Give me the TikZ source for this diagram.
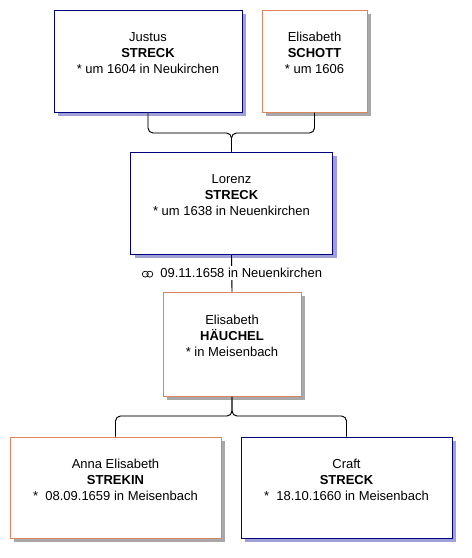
\documentclass[tikz,border=0pt]{standalone}
\usepackage{fontspec}
\setmainfont{Liberation Sans}
\usepackage{xcolor}

\definecolor{manblue}{RGB}{0,0,128}
\definecolor{womanred}{RGB}{222,132,92}
\definecolor{manshadow}{RGB}{160,160,215}
\definecolor{womanshadow}{RGB}{168,168,168}

\tikzset{
  person/.style={draw, line width=1pt, fill=white, inner sep=0pt, align=center,
    font=\fontsize{13}{16}\selectfont},
  man/.style={person, draw=manblue,
    preaction={fill=manshadow, draw=none, transform canvas={xshift=4pt, yshift=-4pt}}},
  woman/.style={person, draw=womanred,
    preaction={fill=womanshadow, draw=none, transform canvas={xshift=4pt, yshift=-4pt}}},
  link/.style={line width=0.9pt, rounded corners=5pt},
  linkshade/.style={link, gray!50, xshift=1.5pt, yshift=-1.5pt}
}

% marriage rings
\newcommand{\rings}{\tikz[baseline=-3.5pt, line width=0.7pt]
  {\draw (0,0) circle (3pt); \draw (4.5pt,0) circle (3pt);}}

\begin{document}
\begin{tikzpicture}[x=1pt, y=-1pt]
\useasboundingbox (0,0) rectangle (472,558);

% Parents
\node[man, minimum width=188pt, minimum height=102pt] (justus) at (148,61)
  {Justus\\ \textbf{STRECK}\\ * um 1604 in Neukirchen\\ \mbox{}};
\node[woman, minimum width=105pt, minimum height=102pt] (schott) at (314.5,61)
  {Elisabeth\\ \textbf{SCHOTT}\\ * um 1606\\ \mbox{}};

% Couple
\node[man, minimum width=202pt, minimum height=102pt] (lorenz) at (231.5,203)
  {Lorenz\\ \textbf{STRECK}\\ * um 1638 in Neuenkirchen\\ \mbox{}};
\node[woman, minimum width=138pt, minimum height=104pt] (hauchel) at (232,344)
  {Elisabeth\\ \textbf{HÄUCHEL}\\ * in Meisenbach\\ \mbox{}};

% Children
\node[woman, minimum width=211pt, minimum height=101pt] (anna) at (115.5,487.5)
  {Anna Elisabeth\\ \textbf{STREKIN}\\ *\ \ 08.09.1659 in Meisenbach\\ \mbox{}};
\node[man, minimum width=211pt, minimum height=101pt] (craft) at (346.5,487.5)
  {Craft\\ \textbf{STRECK}\\ *\ \ 18.10.1660 in Meisenbach\\ \mbox{}};

\coordinate (parents) at (231.5,133);
\coordinate (kids) at (232,416);

% Draw the connectors, grey edge first
\foreach \s in {linkshade, link}
{
    \draw[\s] (justus.south) |- (parents) -- (lorenz.north);
    \draw[\s] (schott.south) |- (parents) -- (lorenz.north);
    \draw[\s] (lorenz.south) -- (hauchel.north);
    \draw[\s] (hauchel.south) -- (kids) -| (anna.north);
    \draw[\s] (hauchel.south) -- (kids) -| (craft.north);
}

% Marriage label
\node[fill=white, inner sep=2pt, font=\fontsize{13}{16}\selectfont] (marriage) at (232,273)
  {\rings\ \ 09.11.1658 in Neuenkirchen};

\end{tikzpicture}
\end{document}
